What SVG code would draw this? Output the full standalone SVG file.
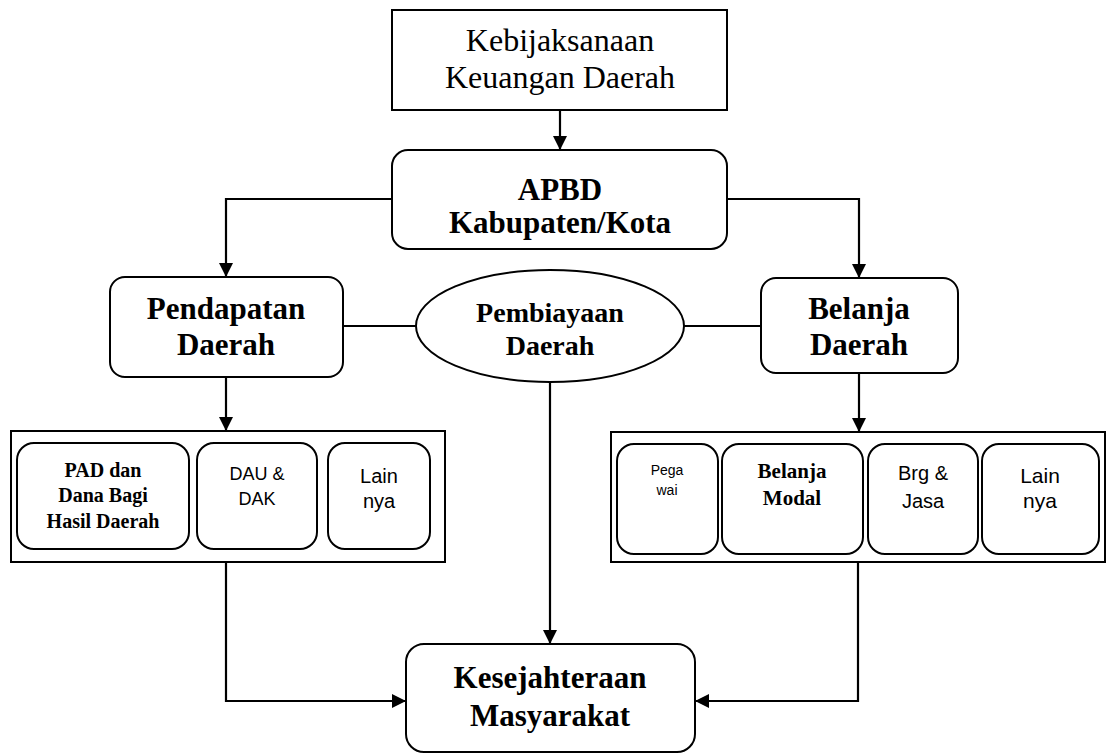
<svg xmlns="http://www.w3.org/2000/svg" width="1109" height="755" viewBox="0 0 1109 755">
<style>
.box{fill:#fff;stroke:#000;stroke-width:2}
.con{fill:none;stroke:#000;stroke-width:2.2}
.serif{font-family:"Liberation Serif","Times New Roman",serif;fill:#000;text-anchor:middle}
.b{font-weight:bold}
.sans{font-family:"Liberation Sans",Arial,sans-serif;fill:#000;text-anchor:middle}
</style>
<defs>
<marker id="arr" markerWidth="14" markerHeight="14" refX="13" refY="7" orient="auto" markerUnits="userSpaceOnUse">
<path d="M0,0 L14,7 L0,14 Z" fill="#000"/>
</marker>
</defs>
<rect width="1109" height="755" fill="#fff"/>
<g id="connectors">
<path class="con" d="M560,110 V149" marker-end="url(#arr)"/>
<path class="con" d="M392,199 H226 V276" marker-end="url(#arr)"/>
<path class="con" d="M727,199 H859 V277" marker-end="url(#arr)"/>
<path class="con" d="M343,326 H416"/>
<path class="con" d="M684,326 H761"/>
<path class="con" d="M226,377 V430" marker-end="url(#arr)"/>
<path class="con" d="M859,373 V431" marker-end="url(#arr)"/>
<path class="con" d="M550,382 V643" marker-end="url(#arr)"/>
<path class="con" d="M226,562 V701 H405" marker-end="url(#arr)"/>
<path class="con" d="M858,562 V701 H696" marker-end="url(#arr)"/>
</g>
<g id="kebijaksanaan">
<rect class="box" x="392" y="10" width="335" height="100"/>
<text class="serif" x="560" y="51" font-size="32">Kebijaksanaan</text>
<text class="serif" x="560" y="88" font-size="32">Keuangan Daerah</text>
</g>
<g id="apbd">
<rect class="box" x="392" y="150" width="335" height="99" rx="16"/>
<text class="serif b" x="560" y="200" font-size="31">APBD</text>
<text class="serif b" x="560" y="233" font-size="31">Kabupaten/Kota</text>
</g>
<g id="pendapatan">
<rect class="box" x="110" y="277" width="233" height="100" rx="15"/>
<text class="serif b" x="226" y="319" font-size="31">Pendapatan</text>
<text class="serif b" x="226" y="355" font-size="31">Daerah</text>
</g>
<g id="pembiayaan">
<ellipse class="box" cx="550" cy="326" rx="134" ry="56"/>
<text class="serif b" x="550" y="322" font-size="28">Pembiayaan</text>
<text class="serif b" x="550" y="355" font-size="28">Daerah</text>
</g>
<g id="belanja">
<rect class="box" x="761" y="278" width="197" height="95" rx="15"/>
<text class="serif b" x="859" y="319" font-size="31">Belanja</text>
<text class="serif b" x="859" y="355" font-size="31">Daerah</text>
</g>
<g id="pendapatan-group">
<rect class="box" x="11" y="431" width="434" height="131"/>
<g id="pad">
<rect class="box" x="17" y="443" width="172" height="106" rx="17"/>
<text class="serif b" x="103" y="477" font-size="20">PAD dan</text>
<text class="serif b" x="103" y="502" font-size="20">Dana Bagi</text>
<text class="serif b" x="103" y="528" font-size="20">Hasil Daerah</text>
</g>
<g id="dau">
<rect class="box" x="197" y="443" width="120" height="106" rx="17"/>
<text class="sans" x="257" y="480" font-size="18">DAU &amp;</text>
<text class="sans" x="257" y="505" font-size="18">DAK</text>
</g>
<g id="lainnya1">
<rect class="box" x="328" y="443" width="102" height="106" rx="17"/>
<text class="sans" x="379" y="483" font-size="20">Lain</text>
<text class="sans" x="379" y="508" font-size="20">nya</text>
</g>
</g>
<g id="belanja-group">
<rect class="box" x="611" y="432" width="494" height="130"/>
<g id="pegawai">
<rect class="box" x="617" y="444" width="101" height="110" rx="17"/>
<text class="sans" x="667" y="475" font-size="14">Pega</text>
<text class="sans" x="667" y="495" font-size="14">wai</text>
</g>
<g id="modal">
<rect class="box" x="722" y="444" width="141" height="110" rx="17"/>
<text class="serif b" x="792" y="478" font-size="21">Belanja</text>
<text class="serif b" x="792" y="505" font-size="21">Modal</text>
</g>
<g id="barangjasa">
<rect class="box" x="868" y="444" width="110" height="110" rx="17"/>
<text class="sans" x="923" y="480" font-size="20">Brg &amp;</text>
<text class="sans" x="923" y="508" font-size="20">Jasa</text>
</g>
<g id="lainnya2">
<rect class="box" x="982" y="444" width="117" height="110" rx="17"/>
<text class="sans" x="1040" y="483" font-size="21">Lain</text>
<text class="sans" x="1040" y="508" font-size="21">nya</text>
</g>
</g>
<g id="kesejahteraan">
<rect class="box" x="406" y="644" width="289" height="108" rx="18"/>
<text class="serif b" x="550" y="688" font-size="31">Kesejahteraan</text>
<text class="serif b" x="550" y="726" font-size="31">Masyarakat</text>
</g>
</svg>
